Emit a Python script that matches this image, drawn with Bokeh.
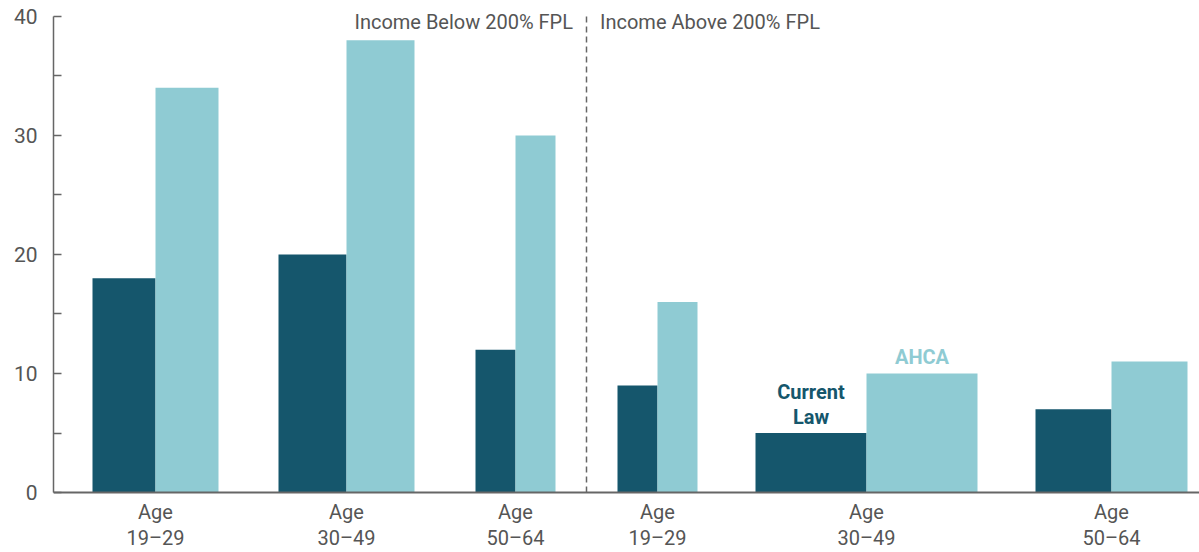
from bokeh.plotting import figure
from bokeh.models import ColumnDataSource, Range1d, FixedTicker, Span
from bokeh.core.properties import value
from bokeh.embed import file_html
from bokeh.resources import INLINE

# ---- data ----
age_groups = ["19–29", "30–49", "50–64", "19–29", "30–49", "50–64"]
current_law = [18, 20, 12, 9, 5, 7]
ahca = [34, 38, 30, 16, 10, 11]
bar_widths = [63, 68, 40, 40, 111, 76]  # relative width of each group's bars
income_headers = ["Income Below 200% FPL", "Income Above 200% FPL"]
y_ticks = [0, 10, 20, 30, 40]
y_minor = [5, 15, 25, 35]
series_names = ["Current", "Law", "AHCA"]

# ---- style / layout ----
DARK = "#15566c"
LIGHT = "#8fcbd3"
GRAY = "#555555"
LINE = "#666666"
FONT = "Roboto"
gaps = [39, 60, 61, 62, 58, 58]

lefts = []
pos = 0
for g, w in zip(gaps, bar_widths):
    pos += g
    lefts.append(pos)
    pos += 2 * w
dark_x = [l + w / 2 for l, w in zip(lefts, bar_widths)]
light_x = [l + 1.5 * w for l, w in zip(lefts, bar_widths)]
centers = [l + w for l, w in zip(lefts, bar_widths)]
divider = (lefts[2] + 2 * bar_widths[2] + lefts[3]) / 2

src = ColumnDataSource(dict(dark_x=dark_x, light_x=light_x, w=bar_widths,
                            cl=current_law, ah=ahca, c=centers,
                            age=["Age"] * len(age_groups), rng=age_groups))

p = figure(width=1199, height=552, output_backend="svg", toolbar_location=None,
           x_range=Range1d(0, 1146), y_range=Range1d(-5.04, 40.5),
           x_axis_location=None, min_border_left=53, min_border_right=0,
           min_border_top=10, min_border_bottom=0)
p.grid.visible = False
p.outline_line_color = None
p.background_fill_color = "white"

p.vbar(x="dark_x", top="cl", bottom=0, width="w", source=src,
       fill_color=DARK, line_color=None)
p.vbar(x="light_x", top="ah", bottom=0, width="w", source=src,
       fill_color=LIGHT, line_color=None)

p.add_layout(Span(location=0, dimension="width", line_color=LINE, line_width=2))

p.segment(x0=[divider], y0=[0], x1=[divider], y1=[40.3], line_color=LINE,
          line_width=1.5, line_dash="6 4")

ya = p.yaxis[0]
ya.ticker = FixedTicker(ticks=y_ticks, minor_ticks=y_minor)
ya.bounds = (0, 40)
ya.axis_line_color = LINE
ya.axis_line_width = 1.5
ya.major_tick_in = 8
ya.major_tick_out = 0
ya.minor_tick_in = 8
ya.minor_tick_out = 0
ya.major_tick_line_color = LINE
ya.minor_tick_line_color = LINE
ya.major_tick_line_width = 1.5
ya.minor_tick_line_width = 1.5
ya.major_label_standoff = 16
ya.major_label_text_font = FONT
ya.major_label_text_font_size = "21px"
ya.major_label_text_color = GRAY

# group labels
p.text(x="c", y=0, text="age", source=src, text_align="center",
       text_baseline="middle", y_offset=19, text_font=value(FONT),
       text_font_size="20px", text_color=GRAY)
p.text(x="c", y=0, text="rng", source=src, text_align="center",
       text_baseline="middle", y_offset=45, text_font=value(FONT),
       text_font_size="20px", text_color=GRAY)

# headers
p.text(x=[divider - 13.5], y=[40], text=[income_headers[0]], text_align="right",
       text_baseline="middle", y_offset=6, text_font=value(FONT),
       text_font_size="20px", text_color=GRAY)
p.text(x=[divider + 13.5], y=[40], text=[income_headers[1]], text_align="left",
       text_baseline="middle", y_offset=6, text_font=value(FONT),
       text_font_size="20px", text_color=GRAY)

# series labels
p.text(x=[dark_x[4], dark_x[4]], y=[current_law[4], current_law[4]],
       text=series_names[:2], y_offset=[-41, -16], text_align="center",
       text_baseline="middle", text_font=value(FONT), text_font_style="bold",
       text_font_size="20px", text_color=DARK)
p.text(x=[light_x[4]], y=[ahca[4]], text=[series_names[2]], y_offset=-16,
       text_align="center", text_baseline="middle", text_font=value(FONT),
       text_font_style="bold", text_font_size="20px", text_color=LIGHT)

open("out.html", "w").write(file_html(p, INLINE))
